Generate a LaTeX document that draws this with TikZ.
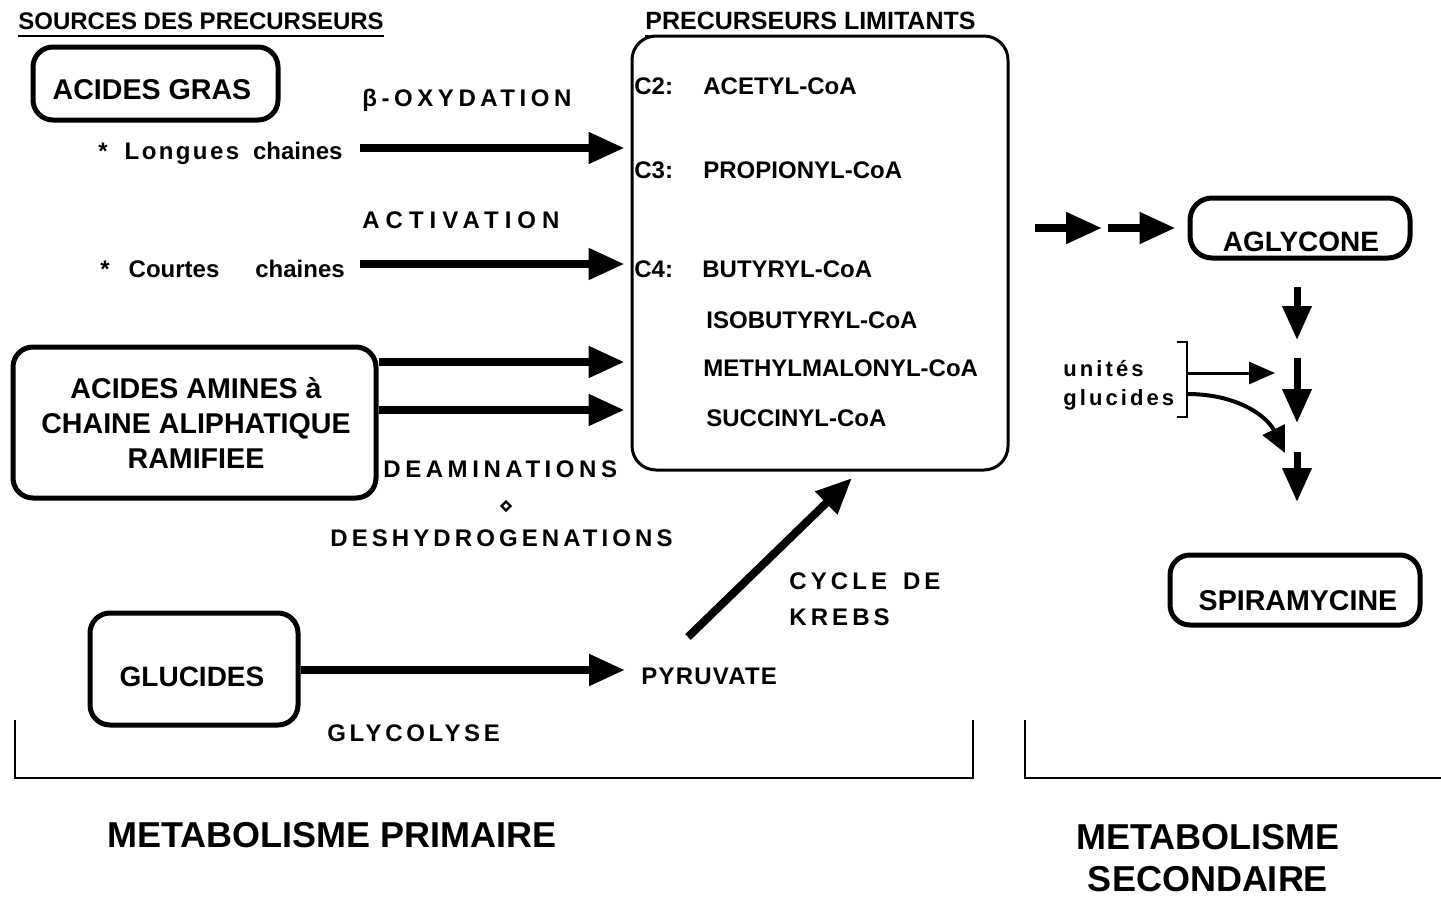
\documentclass[tikz,border=0pt]{standalone}
\usepackage{fontspec}
\setmainfont{Liberation Sans}
\usetikzlibrary{arrows.meta,shapes.geometric}
\tikzset{
  every node/.style={inner sep=0pt, font=\bfseries},
  box/.style={draw, line width=2.5pt, rounded corners=10pt},
  thinbox/.style={draw, line width=1.5pt, rounded corners=12pt},
  lbl/.style={anchor=west, font=\bfseries\fontsize{12}{14}\selectfont},
  spaced/.style={anchor=west, font=\bfseries\fontsize{12}{14}\selectfont\addfontfeatures{LetterSpace=19}},
  big/.style={font=\bfseries\fontsize{14.3}{17.5}\selectfont},
  bigarr/.style={line width=4pt, -{Triangle[length=18pt,width=15pt]}},
  downarr/.style={line width=3.5pt, -{Triangle[length=17pt,width=14pt]}},
  smallarr/.style={line width=1.5pt, -{Triangle[length=13pt,width=11pt]}},
  brk/.style={line width=1.2pt},
}
\begin{document}
\begin{tikzpicture}[x=0.5pt,y=-0.5pt]
\useasboundingbox (0,0) rectangle (1441,900);

% headings
\node[lbl] (src) at (18,21) {SOURCES DES PRECURSEURS};
\draw[line width=1pt] ([yshift=-3pt]src.south west) -- ([yshift=-3pt]src.south east);
\node[lbl, font=\bfseries\fontsize{12.5}{14}\selectfont] (prl) at (645,21) {PRECURSEURS LIMITANTS};
\draw[line width=1pt] ([yshift=-3pt]prl.south west) -- ([yshift=-3pt]prl.south east);

% boxes
\node[box, minimum width=122.5pt, minimum height=36.5pt] (agras) at (155.5,83.5) {};
\node[big] (agrast) at (152,90) {ACIDES GRAS};
\node[thinbox, minimum width=188pt, minimum height=217pt] (prec) at (820,253) {};
\node[box, minimum width=181.5pt, minimum height=75.5pt] (amines) at (194.5,422.5) {};
\node[big, align=center] (aminest) at (196,423) {ACIDES AMINES à\\CHAINE ALIPHATIQUE\\RAMIFIEE};
\node[box, minimum width=104pt, minimum height=56pt] (glubox) at (194,669) {};
\node[big, font=\bfseries\fontsize{14}{17}\selectfont] (glut) at (192,677) {GLUCIDES};
\node[box, minimum width=110pt, minimum height=30pt, rounded corners=11pt] (agly) at (1300,228) {};
\node[big, font=\bfseries\fontsize{14}{17}\selectfont] (aglyt) at (1301,242) {AGLYCONE};
\node[box, minimum width=125pt, minimum height=35pt, rounded corners=10pt] (spira) at (1295,590) {};
\node[big] (spirat) at (1298,601) {SPIRAMYCINE};

% left labels
\node[spaced] (betaox) at (362,100) {β-OXYDATION};
\node[lbl] (longues) at (98,153) {*\hspace{8.5pt}{\addfontfeatures{LetterSpace=10}Longues}\hspace{7pt}chaines};
\node[spaced, font=\bfseries\fontsize{12}{14}\selectfont\addfontfeatures{LetterSpace=25}] (activ) at (362,220) {ACTIVATION};
\node[lbl] (courtes) at (100,269) {*\hspace{9.5pt}Courtes\hspace{18pt}chaines};

% precursors
\node[lbl] (c2) at (634,86) {C2:};
\node[lbl] (acetyl) at (703,86) {ACETYL-CoA};
\node[lbl] (c3) at (634,170) {C3:};
\node[lbl] (propionyl) at (703,170) {PROPIONYL-CoA};
\node[lbl] (c4) at (634,269) {C4:};
\node[lbl] (butyryl) at (702,269) {BUTYRYL-CoA};
\node[lbl] (isobut) at (706,320) {ISOBUTYRYL-CoA};
\node[lbl] (methyl) at (703,368) {METHYLMALONYL-CoA};
\node[lbl] (succinyl) at (706,418) {SUCCINYL-CoA};

% middle labels
\node[spaced] (deamin) at (383,469) {DEAMINATIONS};
\node[draw, shape=diamond, line width=1.2pt, minimum size=5pt] (plus) at (506,506) {};
\node[spaced, font=\bfseries\fontsize{12}{14}\selectfont\addfontfeatures{LetterSpace=17}] (deshydro) at (330,538) {DESHYDROGENATIONS};
\node[spaced, font=\bfseries\fontsize{12}{14}\selectfont\addfontfeatures{LetterSpace=17}] (cycle) at (789,581) {CYCLE\hspace{8pt}DE};
\node[spaced, font=\bfseries\fontsize{12}{14}\selectfont\addfontfeatures{LetterSpace=17}] (krebs) at (789,617) {KREBS};
\node[lbl, font=\bfseries\fontsize{12}{14}\selectfont\addfontfeatures{LetterSpace=5}] (pyruvate) at (641,676) {PYRUVATE};
\node[spaced, font=\bfseries\fontsize{12}{14}\selectfont\addfontfeatures{LetterSpace=15}] (glycolyse) at (327,733) {GLYCOLYSE};

% right labels
\node[anchor=west, font=\bfseries\fontsize{11}{13}\selectfont\addfontfeatures{LetterSpace=14}] (unites) at (1063,369) {unités};
\node[anchor=west, font=\bfseries\fontsize{11}{13}\selectfont\addfontfeatures{LetterSpace=14}] (glucides) at (1063,400) {glucides};

% bottom
\node[anchor=west, font=\bfseries\fontsize{18}{22}\selectfont] (metprim) at (107,835) {METABOLISME PRIMAIRE};
\node[align=center, font=\bfseries\fontsize{18}{21}\selectfont] (metsec) at (1208,858) {METABOLISME\\SECONDAIRE};

% coordinates for free ends
\coordinate (l1) at (360,148);
\coordinate (l2) at (360,264);
\coordinate (a1) at (376,362);
\coordinate (a2) at (376,410);
\coordinate (g1) at (300,670);
\coordinate (k1) at (688,637);
\coordinate (k2) at (852,478);
\coordinate (d1) at (1035,228);
\coordinate (d2) at (1102,228);
\coordinate (d3) at (1108,228);
\coordinate (v1s) at (1297,287);
\coordinate (v1e) at (1297,340);
\coordinate (v2s) at (1297,358);
\coordinate (v2e) at (1297,423);
\coordinate (v3s) at (1297,452);
\coordinate (v3e) at (1297,502);
\coordinate (bt) at (1177,342);
\coordinate (bb) at (1177,417);
\coordinate (h1) at (1187,373);
\coordinate (h2) at (1275,373);
\coordinate (c1) at (1187,394);
\coordinate (c2e) at (1285,453);

% main arrows
\draw[bigarr, shorten >=3pt] (l1) -- (prec.west |- l1);
\draw[bigarr, shorten >=3pt] (l2) -- (prec.west |- l2);
\draw[bigarr, shorten >=3pt] (amines.east |- a1) -- (prec.west |- a1);
\draw[bigarr, shorten >=3pt] (amines.east |- a2) -- (prec.west |- a2);
\draw[bigarr, shorten >=8pt] (glubox.east |- g1) -- (pyruvate.west |- g1);
\draw[bigarr] (k1) -- (k2);

% secondary metabolism
\draw[bigarr] (d1) -- (d2);
\draw[bigarr, shorten >=6pt] (d3) -- (agly.west |- d3);
\draw[downarr] (v1s) -- (v1e);
\draw[downarr] (v2s) -- (v2e);
\draw[downarr] (v3s) -- (v3e);
\draw[brk] (bt) -- (h1 |- bt) -- (h1 |- bb) -- (bb);
\draw[smallarr] (h1) -- (h2);
\draw[line width=2pt, -{Triangle[length=13pt,width=12pt]}] (c1) .. controls (1240,394) and (1268,418) .. (c2e);

% brackets
\draw[brk] (15,720) -- (15,778) -- (973,778) -- (973,720);
\draw[brk] (1025,720) -- (1025,778) -- (1441,778);
\end{tikzpicture}
\end{document}
